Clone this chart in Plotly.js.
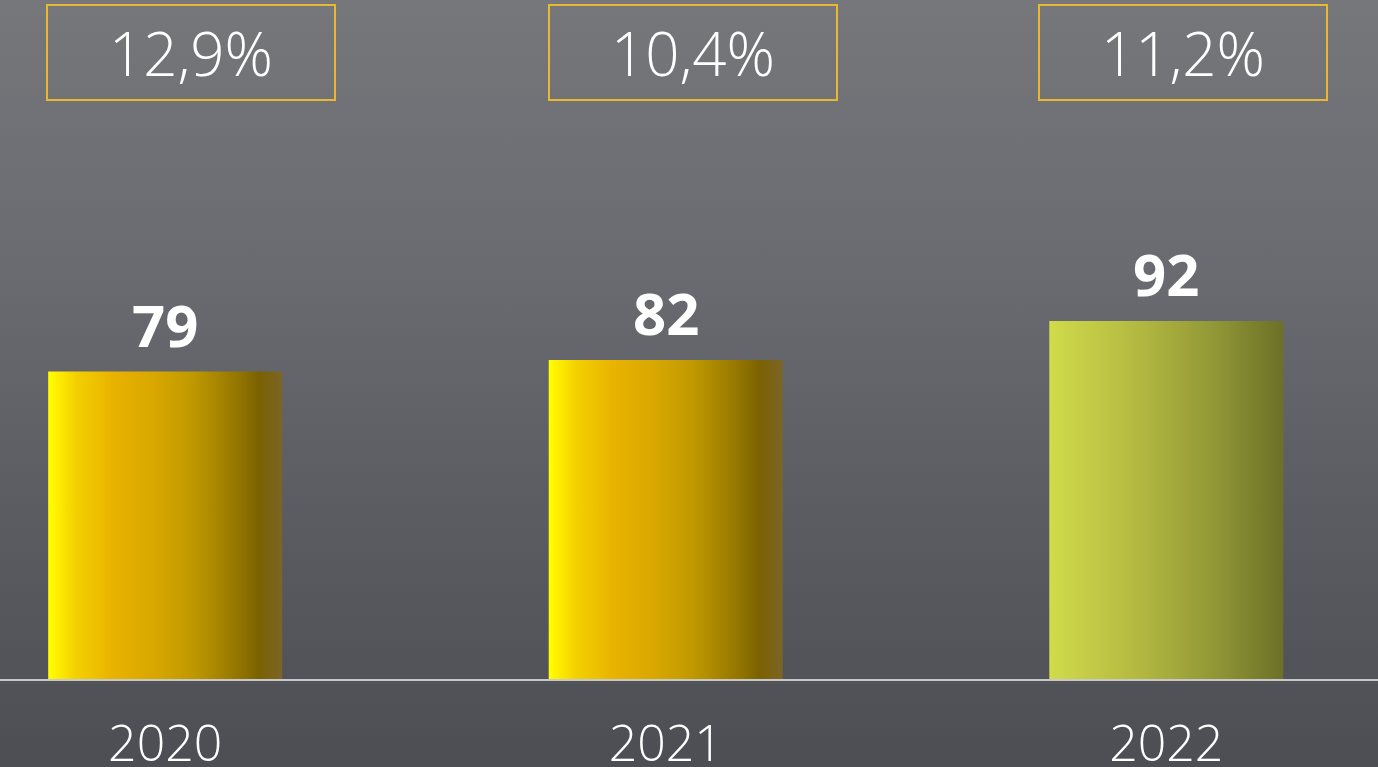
<!DOCTYPE html>
<html>
<head>
<meta charset="utf-8">
<script src="https://cdn.plot.ly/plotly-3.0.1.min.js"></script>
<style>
  html, body { margin: 0; padding: 0; }
  body { width: 1378px; height: 767px; overflow: hidden;
    background: linear-gradient(to bottom, #76777b 0%, #6a6b70 35%, #5c5d62 65%, #4d4e53 100%); }
  #chart { width: 1378px; height: 767px; }
</style>
</head>
<body>
<div id="chart"></div>
<script>
// ---- data ----
const years = ["2020", "2021", "2022"];
const values = [79, 82, 92];
const shares = ["12,9%", "10,4%", "11,2%"];

const idx = years.map((_, i) => i);
const FONT = "'Open Sans', 'DejaVu Sans', sans-serif";

const barTrace = {
  type: "bar",
  x: idx,
  y: values,
  width: 0.4675,
  marker: { color: ["#e6b000", "#e6b000", "#b0b640"], line: { width: 0 } },
  hoverinfo: "none"
};

// annotations: value labels above bars, share boxes at top
const annotations = [];
const boxShift = [26, 27.5, 16.5];
values.forEach((v, i) => {
  annotations.push({
    x: idx[i], y: v, xref: "x", yref: "y",
    text: "<b>" + v + "</b>",
    showarrow: false, xanchor: "center", yanchor: "bottom", yshift: 6,
    font: { family: FONT, size: 58, color: "#ffffff" }
  });
  annotations.push({
    x: idx[i], y: 1, xref: "x", yref: "paper",
    text: shares[i],
    showarrow: false, xanchor: "center", yanchor: "top",
    xshift: boxShift[i], yshift: -4,
    width: 286, height: 93, align: "center", valign: "middle",
    bordercolor: "#e8b830", borderwidth: 2, borderpad: 0,
    font: { family: FONT, size: 60, color: "#ffffff", weight: 300 }
  });
});

const layout = {
  width: 1378, height: 767,
  margin: { l: 0, r: 0, t: 0, b: 88 },
  paper_bgcolor: "rgba(0,0,0,0)",
  plot_bgcolor: "rgba(0,0,0,0)",
  showlegend: false,
  xaxis: {
    range: [-0.33, 2.423],
    tickvals: idx, ticktext: years,
    showgrid: false, zeroline: false,
    showline: true, linecolor: "#c8c8c8", linewidth: 2,
    ticks: "", ticklabelstandoff: 20,
    tickfont: { family: FONT, size: 50, color: "#ffffff", weight: 300 },
    fixedrange: true
  },
  yaxis: {
    range: [0, 174.5],
    visible: false, showgrid: false, zeroline: false, fixedrange: true
  },
  annotations: annotations
};

function applyGradients() {
  const gd = document.getElementById("chart");
  const svg = gd.querySelector("svg.main-svg");
  const ns = "http://www.w3.org/2000/svg";
  let defs = svg.querySelector("defs");
  if (!defs) { defs = document.createElementNS(ns, "defs"); svg.insertBefore(defs, svg.firstChild); }
  const grads = {
    gradYellow: [[0, "#ffff00"], [0.03, "#fff200"], [0.12, "#f3d000"], [0.28, "#e8b200"], [0.45, "#d8a800"],
                 [0.62, "#bf9800"], [0.8, "#967800"], [0.9, "#7b6200"], [1, "#7c6428"]],
    gradGreen: [[0, "#d0dc4a"], [0.1, "#c9d248"], [0.4, "#b1b740"], [0.7, "#929836"], [1, "#6c7028"]]
  };
  Object.keys(grads).forEach(id => {
    const lg = document.createElementNS(ns, "linearGradient");
    lg.setAttribute("id", id);
    lg.setAttribute("x1", "0"); lg.setAttribute("y1", "0");
    lg.setAttribute("x2", "1"); lg.setAttribute("y2", "0");
    grads[id].forEach(([o, c]) => {
      const s = document.createElementNS(ns, "stop");
      s.setAttribute("offset", o);
      s.setAttribute("stop-color", c);
      lg.appendChild(s);
    });
    defs.appendChild(lg);
  });
  const paths = gd.querySelectorAll(".barlayer .point path");
  paths.forEach((p, i) => {
    p.style.fill = i === 2 ? "url(#gradGreen)" : "url(#gradYellow)";
  });
}

Plotly.newPlot("chart", [barTrace], layout, { displayModeBar: false, staticPlot: true })
  .then(applyGradients);
</script>
</body>
</html>
